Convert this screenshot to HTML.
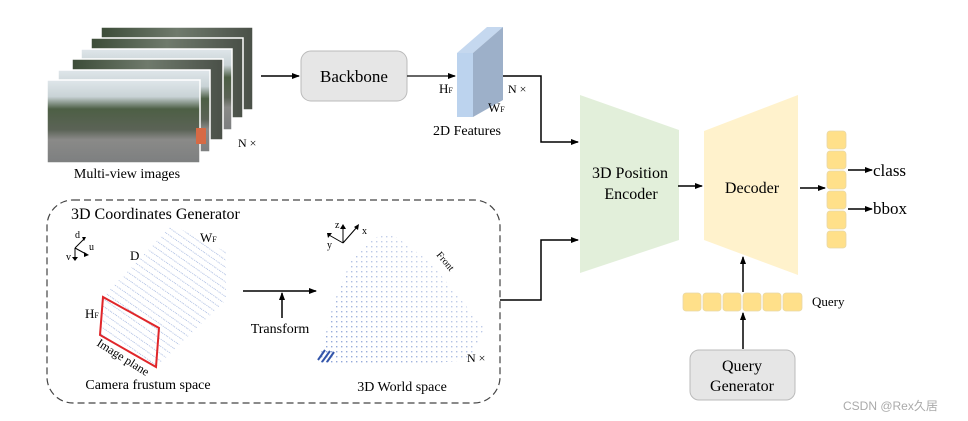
<!DOCTYPE html>
<html><head><meta charset="utf-8"><style>
html,body{margin:0;padding:0;background:#fff;}
svg{display:block;}
text{font-family:"Liberation Serif","Times New Roman",serif;}
</style></head><body>
<svg width="968" height="421" viewBox="0 0 968 421" xmlns="http://www.w3.org/2000/svg">
<defs>
<marker id="ar" markerWidth="8" markerHeight="8" refX="7" refY="4" orient="auto" markerUnits="userSpaceOnUse"><path d="M0,1 L8,4 L0,7 z" fill="#000"/></marker>
<linearGradient id="ph" x1="0" y1="0" x2="0" y2="1">
<stop offset="0" stop-color="#dfe6ea"/><stop offset="0.2" stop-color="#c9d3d6"/><stop offset="0.35" stop-color="#4d5f45"/><stop offset="0.6" stop-color="#5b6356"/><stop offset="0.72" stop-color="#8a8a88"/><stop offset="1" stop-color="#7d7f80"/></linearGradient>
<linearGradient id="ph2" x1="0" y1="0" x2="1" y2="0">
<stop offset="0" stop-color="#3c4c38"/><stop offset="0.5" stop-color="#6f7a6c"/><stop offset="1" stop-color="#4a5048"/></linearGradient>
<pattern id="fr" width="6" height="6" patternUnits="userSpaceOnUse" patternTransform="rotate(-55)"><line x1="0" y1="0" x2="0" y2="6" stroke="#8fa6d8" stroke-width="1.4" stroke-dasharray="1 1.2"/></pattern>
<pattern id="wd" width="5" height="5" patternUnits="userSpaceOnUse"><rect x="1" y="1" width="1.4" height="1.4" fill="#8ba2d6"/></pattern>
<linearGradient id="wg" x1="0" y1="1" x2="1" y2="0"><stop offset="0" stop-color="#fff" stop-opacity="0"/><stop offset="1" stop-color="#fff" stop-opacity="0.7"/></linearGradient>
</defs>

<g stroke="#fff" stroke-width="1.5">
<rect x="101" y="27" width="152" height="83" fill="url(#ph2)"/>
<rect x="91" y="38" width="152" height="80" fill="url(#ph2)"/>
<rect x="81" y="49" width="151" height="81" fill="url(#ph)"/>
<rect x="72" y="59" width="151" height="81" fill="url(#ph2)"/>
<rect x="58" y="70" width="152" height="82" fill="url(#ph)"/>
<rect x="47" y="80" width="153" height="83" fill="url(#ph)"/>
</g>
<rect x="196" y="128" width="10" height="16" fill="#d66a45"/>
<text x="238" y="147" font-size="12">N ×</text>
<text x="127" y="178" font-size="14" text-anchor="middle">Multi-view images</text>

<line x1="261" y1="76" x2="299" y2="76" stroke="#000" stroke-width="1.5" marker-end="url(#ar)"/>
<rect x="301" y="51" width="106" height="50" rx="10" fill="#e6e6e6" stroke="#bbb"/>
<text x="354" y="82" font-size="17" text-anchor="middle">Backbone</text>
<line x1="407" y1="76" x2="455" y2="76" stroke="#333" stroke-width="1.5" marker-end="url(#ar)"/>

<polygon points="457,53 487,27 503,27 473,53" fill="#c5d8ef"/>
<rect x="457" y="53" width="16" height="64" fill="#bcd3ee"/>
<polygon points="473,53 503,27 503,100 473,117" fill="#9db0c9"/>
<text x="439" y="93" font-size="13">H<tspan font-size="8">F</tspan></text>
<text x="488" y="112" font-size="13">W<tspan font-size="8">F</tspan></text>
<text x="508" y="93" font-size="12">N ×</text>
<text x="467" y="135" font-size="14" text-anchor="middle">2D Features</text>

<polyline points="503,76 541,76 541,142 578,142" fill="none" stroke="#000" stroke-width="1.5" marker-end="url(#ar)"/>
<polyline points="500,300 541,300 541,240 578,240" fill="none" stroke="#000" stroke-width="1.5" marker-end="url(#ar)"/>

<rect x="47" y="200" width="453" height="203" rx="26" fill="none" stroke="#444" stroke-width="1.2" stroke-dasharray="7 4"/>
<text x="71" y="219" font-size="16">3D Coordinates Generator</text>

<polygon points="100,335 103,297 172,225 226,252 226,300 156,367" fill="url(#fr)"/>
<polygon points="103,297 159,328 156,367 100,335" fill="none" stroke="#e0262a" stroke-width="2"/>
<text x="85" y="318" font-size="13">H<tspan font-size="8">F</tspan></text>
<text x="200" y="242" font-size="13">W<tspan font-size="8">F</tspan></text>
<text x="130" y="260" font-size="13">D</text>
<text x="96" y="345" font-size="12" transform="rotate(32 96 345)">Image plane</text>
<g stroke="#000" stroke-width="1">
<line x1="75" y1="248" x2="84" y2="239"/><line x1="75" y1="248" x2="86" y2="254"/><line x1="75" y1="248" x2="75" y2="258"/>
</g>
<polygon points="82,237 86,237 84,241" fill="#000"/><polygon points="84,252 89,255 84,257" fill="#000"/><polygon points="72,257 78,257 75,261" fill="#000"/>
<text x="75" y="238" font-size="10">d</text><text x="89" y="250" font-size="10">u</text><text x="66" y="260" font-size="10">v</text>
<text x="148" y="389" font-size="14" text-anchor="middle">Camera frustum space</text>

<line x1="243" y1="291" x2="316" y2="291" stroke="#000" stroke-width="1.5" marker-end="url(#ar)"/>
<line x1="282" y1="318" x2="282" y2="293" stroke="#000" stroke-width="1.5" marker-end="url(#ar)"/>
<text x="280" y="333" font-size="14" text-anchor="middle">Transform</text>

<polygon points="318,365 333,305 352,258 372,238 392,234 430,262 484,328 470,360 420,364" fill="url(#wd)"/>
<polygon points="318,365 333,305 352,258 372,238 392,234 430,262 484,328 470,360 420,364" fill="url(#wg)"/>
<g stroke="#3355aa" stroke-width="2"><line x1="318" y1="360" x2="325" y2="350"/><line x1="322" y1="362" x2="330" y2="351"/><line x1="327" y1="362" x2="334" y2="352"/></g>
<g stroke="#000" stroke-width="1">
<line x1="343" y1="243" x2="343" y2="228"/><line x1="343" y1="243" x2="357" y2="227"/><line x1="343" y1="243" x2="329" y2="235"/>
</g>
<polygon points="340,229 346,229 343,224" fill="#000"/><polygon points="354,227 359,224 358,230" fill="#000"/><polygon points="327,233 332,233 328,238" fill="#000"/>
<text x="335" y="228" font-size="10">z</text><text x="362" y="234" font-size="10">x</text><text x="327" y="248" font-size="10">y</text>
<text x="436" y="255" font-size="10" transform="rotate(50 436 255)">Front</text>
<text x="467" y="362" font-size="12">N ×</text>
<text x="402" y="391" font-size="14" text-anchor="middle">3D World space</text>

<polygon points="580,95 679,130 679,240 580,273" fill="#e2efda"/>
<text x="630" y="178" font-size="16" text-anchor="middle">3D Position</text>
<text x="631" y="199" font-size="16" text-anchor="middle">Encoder</text>
<line x1="678" y1="186" x2="702" y2="186" stroke="#000" stroke-width="1.5" marker-end="url(#ar)"/>
<polygon points="704,131 798,95 798,275 704,240" fill="#fff2cc"/>
<text x="752" y="193" font-size="16" text-anchor="middle">Decoder</text>
<line x1="800" y1="188" x2="825" y2="188" stroke="#000" stroke-width="1.5" marker-end="url(#ar)"/>

<g fill="#ffe08a" stroke="#e8d8a8" stroke-width="0.8">
<rect x="827" y="131" width="19" height="18" rx="3"/><rect x="827" y="151" width="19" height="18" rx="3"/>
<rect x="827" y="171" width="19" height="18" rx="3"/><rect x="827" y="191" width="19" height="18" rx="3"/>
<rect x="827" y="211" width="19" height="18" rx="3"/><rect x="827" y="231" width="19" height="17" rx="3"/>
<rect x="683" y="293" width="18" height="18" rx="3"/><rect x="703" y="293" width="18" height="18" rx="3"/>
<rect x="723" y="293" width="18" height="18" rx="3"/><rect x="743" y="293" width="18" height="18" rx="3"/>
<rect x="763" y="293" width="18" height="18" rx="3"/><rect x="783" y="293" width="19" height="18" rx="3"/>
</g>
<line x1="848" y1="170" x2="872" y2="170" stroke="#000" stroke-width="1.5" marker-end="url(#ar)"/>
<line x1="848" y1="209" x2="872" y2="209" stroke="#000" stroke-width="1.5" marker-end="url(#ar)"/>
<text x="873" y="176" font-size="17">class</text>
<text x="873" y="214" font-size="17">bbox</text>
<text x="812" y="306" font-size="13">Query</text>
<line x1="743" y1="292" x2="743" y2="257" stroke="#000" stroke-width="1.5" marker-end="url(#ar)"/>
<line x1="743" y1="349" x2="743" y2="313" stroke="#000" stroke-width="1.5" marker-end="url(#ar)"/>
<rect x="690" y="350" width="105" height="50" rx="9" fill="#e6e6e6" stroke="#bbb"/>
<text x="742" y="371" font-size="16" text-anchor="middle">Query</text>
<text x="742" y="391" font-size="16" text-anchor="middle">Generator</text>
<text x="843" y="410" font-size="12" fill="#aaa" style="font-family:'Liberation Sans','Noto Sans CJK SC',sans-serif">CSDN @Rex久居</text>
</svg>
</body></html>
